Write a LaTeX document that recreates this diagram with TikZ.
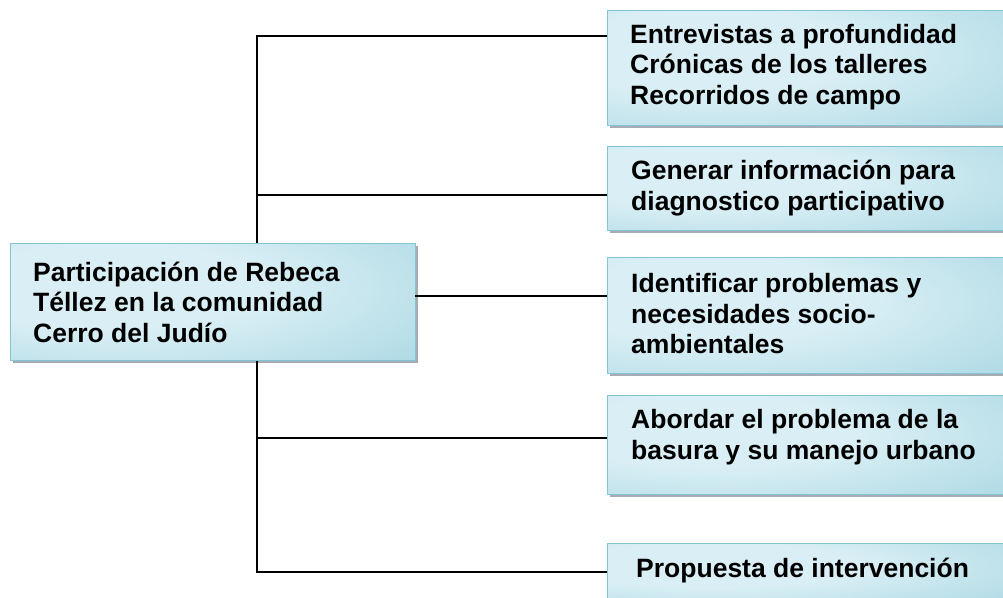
\documentclass[tikz,border=0pt]{standalone}
\usepackage{fontspec}
\setmainfont{Liberation Sans}
\usetikzlibrary{shadows}
\definecolor{boxlight}{HTML}{DAEFF5}
\definecolor{boxmid}{HTML}{AFDAE5}
\definecolor{boxdark}{HTML}{8CC9D9}
\definecolor{boxline}{HTML}{84C4D5}
\definecolor{shadowc}{HTML}{A5ACB3}
\pgfdeclareradialshading{boxshade}{\pgfpoint{-15bp}{8bp}}{color(0bp)=(boxlight); color(18bp)=(boxlight); color(45bp)=(boxmid); color(70bp)=(boxdark); color(100bp)=(boxdark)}
\begin{document}
\begin{tikzpicture}[x=1pt,y=-1pt,
  box/.style={draw=boxline, line width=1pt, shading=boxshade, inner sep=0pt,
    drop shadow={shadow xshift=3pt, shadow yshift=-3pt, fill=shadowc, opacity=1}},
  label/.style={font=\fontsize{26.5}{30.5}\selectfont\bfseries, align=left, inner sep=0pt, anchor=west},
  conn/.style={line width=1.5pt, black}]
\useasboundingbox (0,0) rectangle (1003,597);
\clip (0,0) rectangle (1003,597);
% boxes
\node[box, minimum width=405pt, minimum height=117pt] (root) at (212.5,301.5) {};
\node[box, minimum width=400pt, minimum height=115pt] (b1) at (807,67.5) {};
\node[box, minimum width=400pt, minimum height=84pt] (b2) at (807,188) {};
\node[box, minimum width=400pt, minimum height=116pt] (b3) at (807,315) {};
\node[box, minimum width=400pt, minimum height=99pt] (b4) at (807,444.5) {};
\node[box, minimum width=400pt, minimum height=60pt] (b5) at (807,573) {};
% texts
\node[label] (t0) at (33,302) {Participación de Rebeca\\Téllez en la comunidad\\Cerro del Judío};
\node[label] (t1) at (630,67) {Entrevistas a profundidad\\Crónicas de los talleres\\Recorridos de campo};
\node[label] (t2) at (631,188) {Generar información para\\diagnostico participativo};
\node[label] (t3) at (631,314) {Identificar problemas y\\necesidades socio-\\ambientales};
\node[label] (t4) at (631,437) {Abordar el problema de la\\basura y su manejo urbano};
\node[label] (t5) at (636,571) {Propuesta de intervención};
% connectors
\coordinate (j1) at (257,36);
\coordinate (j2) at (257,195);
\coordinate (j3) at (415,296);
\coordinate (j4) at (257,438);
\coordinate (j5) at (257,572);
\draw[conn] (j1 -| b1.west) -- (j1) -- (j1 |- root.north);
\draw[conn] (j1 |- root.south) -- (j5) -- (j5 -| b5.west);
\draw[conn] (j2) -- (j2 -| b2.west);
\draw[conn] (j3) -- (j3 -| b3.west);
\draw[conn] (j4) -- (j4 -| b4.west);
\end{tikzpicture}
\end{document}
